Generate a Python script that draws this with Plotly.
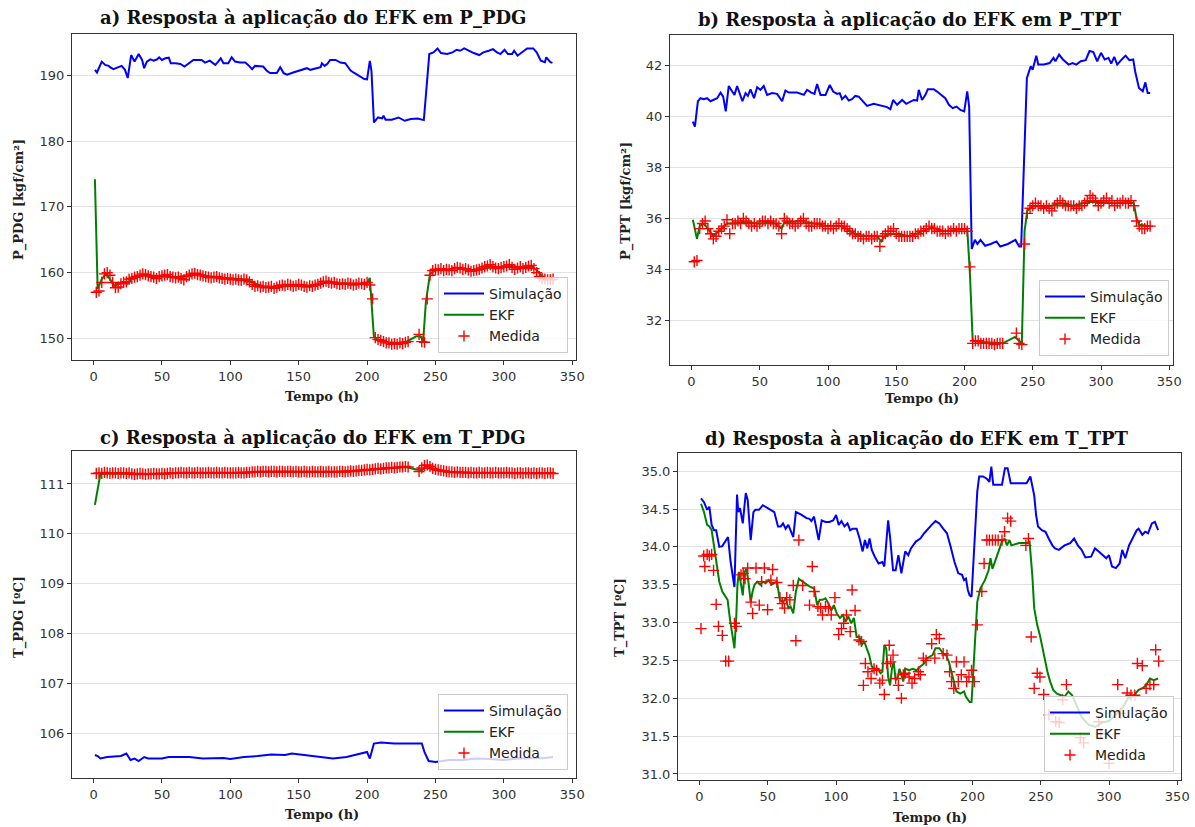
import plotly.graph_objects as go

W, H = 1195, 827

# ---------------- shared ----------------
t_grid = list(range(2, 337, 2))          # measurement instants (h)
x_ticks = [0, 50, 100, 150, 200, 250, 300, 350]
names = ["Simulação", "EKF", "Medida"]
titles = ["a) Resposta à aplicação do EFK em P_PDG",
          "b) Resposta à aplicação do EFK em P_TPT",
          "c) Resposta à aplicação do EFK em T_PDG",
          "d) Resposta à aplicação do EFK em T_TPT"]
y_labels = ["P_PDG [kgf/cm²]", "P_TPT [kgf/cm²]", "T_PDG [ºC]", "T_TPT [ºC]"]
x_label = "Tempo (h)"

# ---------------- a) P_PDG ----------------
sim_a_t = [1, 2.5, 6, 8.5, 11, 12, 14.5, 18, 20.5, 23, 25, 27.5, 30, 33, 35.5, 37, 39, 41.5, 44, 46.5,
           48, 50, 52.5, 55, 56.5, 60, 63.5, 66.5, 69.5, 73, 79, 81.5, 85, 87, 89, 90.5, 93, 95, 98.5, 101,
           103.5, 107, 111, 113, 116, 118, 121, 124, 126.5, 129, 134, 136.5, 139, 141.5, 146, 151, 156, 158.5, 163.5, 166,
           167, 169, 171, 173, 177, 180.5, 184, 188, 190, 194, 198, 200, 202, 203.2, 205, 208, 211, 212, 213.5, 218,
           223, 227.5, 232, 237, 240, 241.5, 245.5, 248.5, 251.5, 254, 258.5, 262.5, 265.5, 268, 271, 274, 278, 282, 285, 289,
           292, 295, 297.5, 300.5, 303, 306, 307.5, 310, 313, 317, 321.5, 324, 327, 330, 331, 334, 335.5]
sim_a = [190.85, 190.45, 192.1, 191.6, 191.45, 191.25, 190.95, 191.25, 191.45, 190.85, 189.6, 193.1, 192.1, 193.25, 192.35, 191.1, 192.1, 192.45, 192.25, 192.45,
         192.75, 192.35, 192.6, 192.7, 191.85, 191.85, 191.75, 191.35, 191.85, 192.35, 192.35, 191.95, 192.25, 191.85, 191.6, 191.95, 192.6, 191.85, 191.85, 192.75,
         192.1, 191.95, 191.95, 191.6, 190.95, 191.45, 191.45, 191.35, 190.75, 190.35, 190.35, 191.25, 190.35, 190.1, 190.45, 190.75, 191.1, 190.85, 191.1, 191.25,
         191.85, 191.45, 191.75, 192.35, 192.35, 191.95, 191.85, 190.75, 190.45, 189.95, 189.45, 189.4, 192.2, 190.7, 182.85, 183.6, 183.45, 183.85, 183.25, 183.25,
         183.6, 183.1, 183.35, 183.45, 183.25, 183.2, 193.25, 193.5, 194.1, 193.4, 193.25, 193.5, 193.9, 193.75, 194.1, 193.75, 193.4, 193.1, 193.5, 193.75,
         194.0, 193.5, 193.25, 193.9, 193.25, 193.25, 193.75, 193.0, 193.5, 194.1, 194.1, 193.5, 192.25, 192.0, 192.75, 192.0, 191.9]
ekf_a_t = [1, 3, 6, 9, 12, 15, 18, 22, 25, 28, 32, 40, 50, 60, 70, 76, 85, 95, 105, 112,
           118, 125, 135, 145, 155, 165, 172, 180, 190, 200, 202, 205, 208, 215, 222, 228, 236, 239, 241, 243,
           246, 250, 260, 268, 276, 284, 292, 298, 304, 312, 320, 324, 328, 332, 336]
ekf_a = [174.2, 157.5, 159.0, 159.8, 159.0, 158.0, 158.2, 158.6, 158.3, 159.2, 159.5, 159.6, 159.4, 159.3, 159.6, 159.8, 159.4, 159.2, 159.0, 158.9,
         158.3, 157.9, 157.8, 158.0, 158.0, 158.2, 158.6, 158.4, 158.3, 158.3, 159.2, 150.2, 149.7, 149.4, 149.3, 149.4, 150.3, 150.3, 149.6, 155.5,
         159.8, 160.4, 160.5, 160.7, 160.4, 160.5, 160.9, 160.7, 161.0, 160.8, 161.0, 160.4, 159.4, 159.0, 158.9]
med_a = [157.0, 157.2, 158.5, 159.8, 160.0, 159.6, 158.5, 157.7, 157.8, 158.3,
         158.5, 158.6, 159.0, 159.1, 159.3, 159.4, 159.6, 159.8, 159.7, 159.5,
         159.4, 159.3, 159.1, 159.4, 159.5, 159.6, 159.7, 159.4, 159.3, 159.2,
         159.3, 159.1, 158.9, 159.4, 159.6, 159.8, 159.9, 159.7, 159.6, 159.5,
         159.4, 159.3, 159.2, 159.3, 159.4, 159.2, 159.1, 159.0, 159.1, 159.0,
         158.9, 159.0, 158.9, 158.8, 159.0, 158.9, 158.6, 158.2, 157.9, 158.0,
         157.8, 157.9, 157.7, 157.8, 157.9, 157.6, 157.8, 158.0, 158.1, 158.0,
         158.2, 158.1, 157.9, 158.0, 158.2, 158.1, 157.9, 157.8, 158.0, 157.9,
         158.1, 158.2, 158.4, 158.6, 158.7, 158.5, 158.4, 158.5, 158.3, 158.2,
         158.3, 158.2, 158.4, 158.3, 158.1, 158.2, 158.4, 158.3, 158.2, 158.5,
         158.1, 156.0, 150.1, 149.8, 149.7, 149.5, 149.3, 149.3, 149.1, 149.2,
         149.1, 149.3, 149.2, 149.4, 149.5, None, None, None, 150.6, 149.5,
         149.4, 156.0, 159.6, 160.3, 160.5, 160.4, 160.6, 160.3, 160.5, 160.4,
         160.3, 160.6, 160.8, 160.7, 160.5, 160.6, 160.4, 160.2, 160.3, 160.4,
         160.5, 160.7, 160.9, 161.0, 161.2, 160.9, 160.7, 160.6, 160.8, 160.9,
         161.0, 161.2, 160.8, 160.5, 160.7, 160.9, 160.6, 160.8, 161.0, 161.1,
         160.6, 160.0, 159.4, 159.1, 159.0, 158.9, 158.9, 159.0]

# ---------------- b) P_TPT ----------------
sim_b_t = [1, 2.5, 4.7, 6.6, 9, 11.4, 13.9, 16.3, 18.8, 21.3, 23.2, 25.1, 27.3, 29.8, 31.5, 33.4, 35.8, 37.3, 39.6, 41.3,
           43.2, 45.8, 48.1, 50.5, 52.9, 55.4, 59, 62.7, 66.4, 68.8, 71.3, 77.4, 82.3, 84.7, 87.7, 90.1, 92, 94.5, 98.2, 101.3,
           103.8, 106.7, 108.6, 110.3, 112.8, 115.2, 117.6, 120, 122.5, 125.7, 128.6, 133.5, 138.4, 143.3, 145.7, 147.7, 150.6, 154.3, 157.3, 160.3,
           162.8, 165.3, 166.5, 168.9, 171.4, 173.1, 177.4, 179.9, 183.1, 185.9, 188.6, 191.4, 194.2, 197, 199.8, 202, 203.4, 205.3, 207.6, 209.5,
           211.7, 215.1, 219.2, 223.4, 226.2, 231.8, 237.3, 240.1, 241.5, 243.5, 245.7, 248.5, 249.9, 252.6, 254, 258.2, 262.4, 265.2, 266.6, 269.3,
           272.1, 276.3, 279.1, 281.9, 285.2, 288.8, 291.6, 294.4, 297.2, 300, 302.7, 305.5, 307.5, 309.7, 311.9, 315.2, 318, 320.8, 323.6, 325,
           327.8, 330.6, 332.5, 334.2, 336]
sim_b = [39.8, 39.6, 40.6, 40.72, 40.68, 40.72, 40.6, 40.65, 40.72, 40.94, 40.78, 40.2, 41.2, 40.98, 40.85, 41.2, 40.78, 40.6, 40.92, 40.81,
         41.07, 40.72, 41.15, 41.05, 41.2, 40.85, 40.92, 40.89, 40.6, 41.02, 40.94, 40.94, 40.85, 41.05, 40.94, 40.89, 41.28, 40.85, 40.85, 41.24,
         40.98, 40.89, 40.92, 40.68, 40.81, 40.63, 40.68, 40.81, 40.78, 40.6, 40.42, 40.5, 40.42, 40.37, 40.29, 40.65, 40.46, 40.65, 40.5, 40.6,
         40.65, 40.63, 41.05, 40.65, 40.85, 41.07, 41.07, 40.98, 40.86, 40.72, 40.46, 40.33, 40.39, 40.26, 40.2, 40.99, 40.4, 34.8, 35.16, 35.0,
         35.16, 34.93, 35.0, 35.1, 34.9, 35.0, 35.16, 34.9, 34.9, 38.42, 41.51, 41.97, 41.84, 42.39, 42.04, 42.04, 42.1, 42.3, 42.17, 42.43,
         42.24, 42.04, 42.1, 42.04, 42.17, 42.21, 42.57, 42.53, 42.17, 42.5, 42.24, 42.3, 42.08, 42.34, 42.04, 42.24, 42.39, 42.21, 42.24, 41.78,
         41.12, 40.99, 41.34, 40.92, 40.92]
ekf_b_t = [1, 4, 6, 9, 12, 16, 20, 26, 30, 40, 50, 60, 66, 68, 80, 90, 100, 110, 116, 122,
           130, 136, 139, 142, 150, 160, 170, 176, 185, 195, 202, 204, 206, 212, 228, 237, 240, 242, 244, 246,
           250, 260, 270, 280, 290, 300, 310, 320, 324, 326, 328, 336]
ekf_b = [35.95, 35.2, 35.7, 35.8, 35.6, 35.3, 35.5, 35.8, 35.8, 35.85, 35.8, 35.85, 35.6, 35.85, 35.9, 35.8, 35.7, 35.7, 35.5, 35.35,
         35.3, 35.3, 35.1, 35.35, 35.4, 35.3, 35.5, 35.65, 35.5, 35.55, 35.6, 33.8, 31.2, 31.15, 31.1, 31.35, 31.2, 31.1, 35.5, 36.3,
         36.5, 36.45, 36.6, 36.5, 36.65, 36.65, 36.6, 36.65, 36.6, 36.0, 35.75, 35.7]
med_b = [34.3, 34.35, 35.6, 35.8, 35.9, 35.6, 35.4, 35.2, 35.3, 35.5,
         35.6, 35.7, 35.95, 35.4, 35.8, 35.8, 35.9, 35.8, 36.0, 35.9,
         35.8, 35.7, 35.8, 35.7, 35.8, 35.9, 35.9, 35.8, 35.9, 35.8,
         35.8, 35.7, 35.4, 36.0, 35.9, 35.8, 35.8, 35.7, 35.8, 35.9,
         36.0, 35.8, 35.7, 35.7, 35.8, 35.8, 35.8, 35.7, 35.7, 35.6,
         35.7, 35.6, 35.7, 35.8, 35.7, 35.7, 35.6, 35.5, 35.4, 35.4,
         35.3, 35.3, 35.2, 35.3, 35.3, 35.2, 35.3, 35.3, 34.9, 35.3,
         35.4, 35.5, 35.5, 35.6, 35.4, 35.3, 35.3, 35.3, 35.3, 35.3,
         35.3, 35.4, 35.4, 35.5, 35.5, 35.6, 35.7, 35.6, 35.6, 35.5,
         35.5, 35.5, 35.4, 35.5, 35.5, 35.6, 35.5, 35.6, 35.6, 35.6,
         35.5, 34.1, 31.1, 31.2, 31.2, 31.1, 31.1, 31.1, 31.1, 31.1,
         31.05, 31.1, 31.1, 31.1, None, None, None, None, 31.5, 31.1,
         31.05, 35.0, 36.2, 36.4, 36.5, 36.6, 36.5, 36.5, 36.4, 36.5,
         36.4, 36.3, 36.5, 36.6, 36.7, 36.6, 36.5, 36.5, 36.5, 36.5,
         36.4, 36.5, 36.5, 36.6, 36.7, 36.9, 36.8, 36.7, 36.5, 36.6,
         36.7, 36.8, 36.6, 36.7, 36.5, 36.6, 36.6, 36.7, 36.6, 36.6,
         36.7, 36.5, 35.9, 35.7, 35.6, 35.6, 35.7, 35.7]

# ---------------- c) T_PDG ----------------
sim_c_t = [1, 3, 5, 10, 20, 24, 27, 30, 33, 37, 40, 50, 55, 70, 80, 95, 100, 110, 120, 130,
           140, 145, 160, 175, 185, 195, 200, 202, 205, 210, 220, 230, 240, 242, 245, 250, 260, 270, 280, 290,
           300, 310, 320, 330, 336]
sim_c = [105.57, 105.55, 105.5, 105.53, 105.55, 105.6, 105.47, 105.5, 105.45, 105.53, 105.5, 105.5, 105.53, 105.53, 105.5, 105.51, 105.49, 105.53, 105.55, 105.58,
         105.57, 105.6, 105.55, 105.5, 105.53, 105.6, 105.63, 105.5, 105.8, 105.82, 105.8, 105.8, 105.8, 105.63, 105.45, 105.43, 105.47, 105.47, 105.5, 105.49,
         105.47, 105.5, 105.5, 105.51, 105.53]
ekf_c_t = [1, 5, 20, 40, 60, 100, 120, 180, 200, 228, 236, 240, 244, 250, 260, 280, 336]
ekf_c = [110.58, 111.2, 111.21, 111.2, 111.22, 111.22, 111.24, 111.25, 111.28, 111.34, 111.29, 111.28, 111.36, 111.28, 111.24, 111.22, 111.22]
med_c = [111.21, 111.22, 111.21, 111.23, 111.22, 111.21, 111.22, 111.22, 111.21, 111.22,
         111.22, 111.21, 111.22, 111.2, 111.19, 111.2, 111.21, 111.2, 111.19, 111.2,
         111.2, 111.21, 111.2, 111.2, 111.21, 111.2, 111.21, 111.22, 111.21, 111.22,
         111.22, 111.23, 111.22, 111.22, 111.23, 111.22, 111.22, 111.23, 111.22, 111.22,
         111.22, 111.23, 111.22, 111.22, 111.23, 111.22, 111.22, 111.23, 111.22, 111.22,
         111.22, 111.22, 111.23, 111.22, 111.22, 111.23, 111.23, 111.24, 111.24, 111.25,
         111.24, 111.25, 111.25, 111.24, 111.25, 111.25, 111.24, 111.25, 111.25, 111.24,
         111.25, 111.25, 111.24, 111.25, 111.24, 111.24, 111.25, 111.24, 111.24, 111.25,
         111.24, 111.24, 111.25, 111.24, 111.24, 111.25, 111.24, 111.24, 111.24, 111.25,
         111.25, 111.24, 111.25, 111.26, 111.25, 111.26, 111.27, 111.27, 111.28, 111.29,
         111.28, 111.29, 111.3, 111.31, 111.3, 111.31, 111.32, 111.32, 111.33, 111.32,
         111.33, 111.34, 111.34, 111.35, 111.34, None, None, None, 111.25, 111.32,
         111.37, 111.38, 111.35, 111.31, 111.29, 111.28, 111.27, 111.26, 111.25, 111.24,
         111.24, 111.23, 111.24, 111.23, 111.23, 111.23, 111.22, 111.23, 111.22, 111.22,
         111.23, 111.22, 111.22, 111.23, 111.22, 111.22, 111.23, 111.22, 111.22, 111.22,
         111.23, 111.22, 111.22, 111.21, 111.22, 111.22, 111.21, 111.22, 111.22, 111.21,
         111.22, 111.21, 111.22, 111.22, 111.21, 111.22, 111.22, 111.21]

# ---------------- d) T_TPT ----------------
sim_d_t = [1.1, 3.3, 5.6, 7.2, 8.9, 10.6, 12.2, 14.5, 16.7, 19.5, 20.9, 22.8, 25.6, 27.5, 28.4, 29.7, 31.7, 33.9, 35.3, 37.5,
           39.5, 40.9, 43.6, 46.4, 50.6, 54.8, 57.5, 59.5, 61.2, 63.1, 65.1, 66.7, 68.7, 70.6, 74.2, 78.4, 80.6, 82, 83.9, 87.3,
           89.5, 92.3, 95.1, 97.9, 100.1, 102, 104, 106.2, 108.4, 110.4, 112.3, 115.1, 117.3, 119.5, 121.2, 122.9, 124.6, 126.2, 128.4, 131.2,
           134, 135.4, 138.2, 139.6, 141.8, 143.7, 145.7, 147.9, 150.7, 152.9, 154.9, 158.5, 161.8, 164.6, 167.4, 170.1, 172.9, 175.7, 178.5, 181.3,
           184, 186.8, 189.6, 192.4, 193.8, 195.2, 196.6, 197.9, 199.3, 200.7, 202.1, 203.5, 204.9, 207.7, 210.5, 212.4, 213.8, 215.2, 218.8, 221.6,
           223.8, 225.7, 228, 234.1, 239.6, 242.4, 245.2, 246.6, 248, 250.8, 253.5, 255.8, 258.5, 260.5, 263.3, 267.4, 271.6, 274.4, 277.2, 279.9,
           282.7, 286.9, 289.7, 292.5, 295.2, 298, 300, 302.2, 305, 307.8, 309.7, 311.9, 314.7, 317.5, 320.3, 321.7, 324.4, 326.5, 328.6, 331.4,
           333.6, 336]
sim_d = [34.64, 34.59, 34.49, 34.53, 34.29, 34.22, 34.22, 34.0, 34.01, 34.09, 34.13, 33.8, 33.47, 34.69, 34.46, 34.51, 34.31, 34.71, 34.62, 34.09,
         34.46, 34.49, 34.49, 34.55, 34.5, 34.46, 34.27, 34.27, 34.31, 34.24, 34.29, 34.22, 34.13, 34.46, 34.43, 34.38, 34.37, 34.34, 34.4, 34.09,
         34.35, 34.33, 34.33, 34.35, 34.42, 34.29, 34.34, 34.27, 34.31, 34.22, 34.24, 34.24, 34.11, 33.94, 34.09, 33.98, 34.11, 33.96, 33.87, 33.78,
         33.8, 33.74, 34.35, 34.13, 33.69, 33.69, 33.89, 33.65, 33.94, 33.89, 33.98, 34.07, 34.11, 34.18, 34.24, 34.29, 34.34, 34.31, 34.24, 34.18,
         34.0, 33.8, 33.65, 33.63, 33.56, 33.58, 33.43, 33.36, 33.34, 33.8, 34.29, 34.73, 34.93, 34.93, 34.9, 34.86, 35.06, 34.82, 34.82, 34.82,
         35.04, 35.04, 34.84, 34.84, 34.84, 34.93, 34.68, 34.42, 34.27, 34.22, 34.2, 34.11, 34.02, 33.98, 33.96, 34.02, 34.05, 34.11, 34.02, 33.96,
         33.86, 33.87, 33.98, 33.94, 33.89, 33.85, 33.89, 33.74, 33.72, 33.78, 33.96, 33.85, 34.02, 34.13, 34.22, 34.24, 34.16, 34.2, 34.18, 34.31,
         34.33, 34.22]
ekf_d_t = [1.1, 3.3, 5.6, 7.2, 8.9, 10.6, 12.5, 14.5, 16.7, 18.6, 20.6, 22.2, 24.2, 25.6, 27, 27.8, 28.9, 30.3, 31.7, 33.1,
           34.5, 36.1, 37.5, 38.9, 40.3, 42.3, 44.5, 46.4, 48.4, 50.6, 52.8, 54.8, 56.7, 58.9, 61.2, 63.1, 65.1, 66.7, 68.7, 70.6,
           72.8, 75.6, 78.4, 81.2, 84, 86.2, 88.1, 90.1, 92.3, 94.5, 96.5, 98.4, 100.6, 102.9, 105.1, 107, 109, 111.2, 113.1, 115.1,
           117.3, 118.7, 120.7, 122.3, 124.3, 126.2, 128.4, 130.7, 132.6, 134, 135.4, 136.8, 138.2, 139.6, 141, 142.3, 143.7, 145.1, 146.5, 147.9,
           149.3, 150.7, 153.5, 156.2, 159, 161.8, 164.6, 166.8, 168.8, 170.7, 172.9, 175.7, 178.5, 180.7, 182.7, 184.6, 186.3, 188.2, 191, 193.8,
           195.2, 196.6, 197.9, 199.3, 200.7, 202.1, 203.5, 205.7, 209.1, 211.8, 213.2, 214.6, 217.4, 220.2, 221.6, 223.5, 225.2, 227.1, 228.5, 234.1,
           239.6, 241.8, 243.8, 245.2, 247.4, 249.4, 252.2, 254.9, 256.9, 259.1, 261.9, 264.7, 267.4, 270.2, 273, 275.2, 280, 285, 290, 295,
           300, 305, 310, 314, 317.5, 321.7, 324.4, 327.2, 330, 332.8, 336]
ekf_d = [34.57, 34.46, 34.29, 34.27, 34.22, 34.02, 33.78, 33.54, 33.41, 33.36, 33.3, 33.06, 32.83, 32.66, 33.1, 33.5, 33.67, 33.54, 33.36, 33.67,
         33.71, 33.5, 33.27, 33.41, 33.5, 33.54, 33.5, 33.54, 33.52, 33.56, 33.5, 33.52, 33.54, 33.3, 33.27, 33.32, 33.19, 33.21, 33.12, 33.41,
         33.58, 33.54, 33.5, 33.47, 33.45, 33.23, 33.3, 33.3, 33.32, 33.25, 33.16, 33.23, 33.12, 33.06, 33.1, 33.01, 33.08, 32.99, 33.06, 32.81,
         32.81, 32.7, 32.75, 32.66, 32.57, 32.42, 32.39, 32.39, 32.33, 32.35, 32.7, 32.66, 32.28, 32.17, 32.39, 32.48, 32.24, 32.26, 32.39, 32.31,
         32.22, 32.39, 32.37, 32.39, 32.37, 32.42, 32.46, 32.53, 32.55, 32.57, 32.66, 32.66, 32.59, 32.57, 32.48, 32.35, 32.22, 32.09, 32.06, 32.09,
         32.02, 31.98, 31.95, 31.95, 32.44, 32.92, 33.27, 33.45, 33.56, 33.69, 33.85, 33.71, 33.85, 33.98, 34.07, 34.11, 34.02, 34.09, 34.02, 34.05,
         34.05, 34.07, 33.63, 33.19, 32.97, 32.83, 32.57, 32.35, 32.22, 32.11, 32.06, 32.04, 32.02, 32.09, 32.04, 31.95, 31.75, 31.65, 31.62, 31.68,
         31.7, 31.78, 31.88, 32.0, 32.02, 32.11, 32.13, 32.17, 32.26, 32.24, 32.26]
med_d_t = [1.1, 3.1, 3.9, 5.6, 7.2, 8.9, 10.3, 12.2, 13.9, 16.7, 19.2, 21.4, 25.6, 27, 30.4, 32, 33.4, 35.3, 37.7, 38.9,
           41.4, 43.8, 45.5, 47.5, 49.9, 52.3, 53.6, 56.7, 58.9, 60.6, 62.3, 63.9, 66.2, 68.7, 70.6, 72.8, 75.6, 80.6, 82.6, 84,
           86.7, 88.7, 90.1, 92.3, 94.5, 96.5, 99.2, 102, 104, 105.6, 107.6, 110.4, 111.8, 114, 116.8, 118.7, 120.1, 121.5, 123.4, 125.7,
           127.9, 129.8, 132.1, 134, 135.4, 137.3, 139, 140.1, 141.8, 143.7, 145.7, 147.9, 149.3, 150.7, 153.5, 155.7, 157.6, 160.4, 161.8, 164,
           166, 170.1, 172.4, 173.5, 175.7, 178.5, 181.3, 183.2, 184.6, 186.3, 188.2, 189.6, 191.8, 193.8, 195.7, 197.4, 199.3, 201.3, 203.5, 206.8,
           208.5, 210.5, 212.4, 214.6, 216.8, 218.8, 221.6, 223.5, 225.7, 228, 239.1, 241, 243, 245.2, 247.4, 249.4, 252.2, 256, 261, 263.5,
           266, 268.8, 279, 281.5, 292.5, 294, 300, 306.4, 308.5, 313.3, 316.1, 318.9, 320.8, 324.4, 327.2, 330, 332.8, 334.2, 336.4]
med_d = [32.92, 33.88, 33.74, 33.9, 33.88, 33.9, 33.69, 33.24, 32.95, 32.83, 32.49, 32.49, 32.99, 32.95, 33.63, 33.65, 33.58, 33.72, 33.27, 33.12,
         33.72, 33.23, 33.54, 33.72, 33.17, 33.56, 33.7, 33.53, 33.33, 33.25, 33.19, 33.33, 33.3, 33.49, 32.76, 34.09, 33.49, 33.23, 33.74, 33.41,
         33.21, 33.19, 33.1, 33.21, 33.19, 33.1, 33.33, 32.84, 32.92, 32.99, 33.1, 32.88, 33.43, 33.16, 32.77, 32.75, 32.17, 32.46, 32.35, 32.26,
         32.39, 32.37, 32.2, 32.24, 32.05, 32.46, 32.7, 32.48, 32.57, 32.26, 32.17, 32.0, 32.31, 32.33, 32.28, 32.2, 32.26, 32.35, 32.31, 32.53,
         32.5, 32.72, 32.53, 32.84, 32.79, 32.59, 32.57, 32.35, 32.22, 32.13, 32.48, 32.22, 32.31, 32.48, 32.22, 32.28, 32.37, 32.22, 32.97, 33.41,
         33.78, 34.09, 34.09, 34.09, 34.09, 34.09, 34.09, 34.2, 34.38, 34.34, 34.02, 34.11, 32.81, 32.13, 32.33, 32.28, 32.05, 31.78, 31.69, 31.68,
         31.98, 32.18, 31.48, 31.41, 31.69, 31.53, 31.14, 32.18, 31.8, 32.07, 32.04, 32.04, 32.46, 32.43, 32.13, 32.18, 32.18, 32.64, 32.49]

for a, b in [(sim_a_t, sim_a), (ekf_a_t, ekf_a), (t_grid, med_a), (sim_b_t, sim_b), (ekf_b_t, ekf_b), (t_grid, med_b),
             (sim_c_t, sim_c), (ekf_c_t, ekf_c), (t_grid, med_c), (sim_d_t, sim_d), (ekf_d_t, ekf_d), (med_d_t, med_d)]:
    assert len(a) == len(b), (len(a), len(b))

# ---------------- styling / layout ----------------
BLUE, GREEN, RED = "#0000ff", "#008000", "#ff0000"
SANS = "DejaVu Sans"
SERIF = "DejaVu Serif"

# panel geometry in pixels: (left, right, top, bottom)
boxes = [(72, 576, 34, 360), (670, 1173, 35, 365), (72, 576, 451, 778), (678, 1181, 453, 780)]
y_ranges = [[146.7, 196.3], [30.25, 43.2], [105.11, 111.66], [30.92, 35.24]]
y_ticks = [[150, 160, 170, 180, 190], [32, 34, 36, 38, 40, 42], [106, 107, 108, 109, 110, 111],
           [31.0, 31.5, 32.0, 32.5, 33.0, 33.5, 34.0, 34.5, 35.0]]
y_fmt = ["d", "d", "d", ".1f"]
legend_pos = [(568, 353), (1169, 356), (568, 770), (1174, 772)]   # right, bottom
title_pos = [(313, 18), (910, 19), (313, 437), (917, 438)]
ylab_pos = [(19, 200), (626, 201), (19, 617), (620, 618)]
xlab_pos = [(322, 397), (922, 398), (322, 814), (930, 817)]

series = [
    ((sim_a_t, sim_a), (ekf_a_t, ekf_a), (t_grid, med_a)),
    ((sim_b_t, sim_b), (ekf_b_t, ekf_b), (t_grid, med_b)),
    ((sim_c_t, sim_c), (ekf_c_t, ekf_c), (t_grid, med_c)),
    ((sim_d_t, sim_d), (ekf_d_t, ekf_d), (med_d_t, med_d)),
]

fig = go.Figure()
annotations = []
layout = dict(width=W, height=H, autosize=False, margin=dict(l=0, r=0, t=0, b=0),
              paper_bgcolor="white", plot_bgcolor="white", showlegend=True)

for i in range(4):
    sfx = "" if i == 0 else str(i + 1)
    xa, ya = "x" + sfx, "y" + sfx
    lg = "legend" + sfx
    (st, sv), (et, ev), (mt, mv) = series[i]
    fig.add_trace(go.Scatter(x=st, y=sv, mode="lines", name=names[0], xaxis=xa, yaxis=ya, legend=lg,
                             line=dict(color=BLUE, width=2)))
    fig.add_trace(go.Scatter(x=et, y=ev, mode="lines", name=names[1], xaxis=xa, yaxis=ya, legend=lg,
                             line=dict(color=GREEN, width=2)))
    fig.add_trace(go.Scatter(x=mt, y=mv, mode="markers", name=names[2], xaxis=xa, yaxis=ya, legend=lg,
                             marker=dict(symbol="cross-thin", size=8, color=RED, line=dict(color=RED, width=1.4))))
    l, r, t, b = boxes[i]
    common = dict(showline=True, mirror=True, linecolor="#333333", linewidth=1.1,
                  ticks="outside", ticklen=4, tickwidth=1, tickcolor="#333333",
                  tickfont=dict(family=SANS, size=13, color="#333333"),
                  zeroline=False, automargin=False, fixedrange=True)
    layout["xaxis" + sfx] = dict(common, domain=[l / W, r / W], anchor=ya, range=[-15.75, 352.75],
                                 tickvals=x_ticks, showgrid=False)
    layout["yaxis" + sfx] = dict(common, domain=[1 - b / H, 1 - t / H], anchor=xa, range=y_ranges[i],
                                 tickvals=y_ticks[i], tickformat=y_fmt[i], showgrid=True,
                                 gridcolor="#e2e2e2", gridwidth=1)
    rx, by = legend_pos[i]
    layout[lg] = dict(x=rx / W, y=1 - by / H, xanchor="right", yanchor="bottom",
                      bgcolor="rgba(255,255,255,0.8)", bordercolor="#cccccc", borderwidth=1,
                      itemwidth=40,
                      font=dict(family=SANS, size=14, color="#222222"))
    tx, ty = title_pos[i]
    annotations.append(dict(text=titles[i], x=tx / W, y=1 - ty / H, xref="paper", yref="paper",
                            xanchor="center", yanchor="middle", showarrow=False,
                            font=dict(family=SERIF, size=18, color="#111111", weight="bold")))
    lx, ly = ylab_pos[i]
    annotations.append(dict(text=y_labels[i], x=lx / W, y=1 - ly / H, xref="paper", yref="paper",
                            xanchor="center", yanchor="middle", showarrow=False, textangle=-90,
                            font=dict(family=SERIF, size=13, color="#222222", weight="bold")))
    xx, xy = xlab_pos[i]
    annotations.append(dict(text=x_label, x=xx / W, y=1 - xy / H, xref="paper", yref="paper",
                            xanchor="center", yanchor="middle", showarrow=False,
                            font=dict(family=SERIF, size=13, color="#222222", weight="bold")))

layout["annotations"] = annotations
fig.update_layout(**layout)
fig.write_html("out.html")
